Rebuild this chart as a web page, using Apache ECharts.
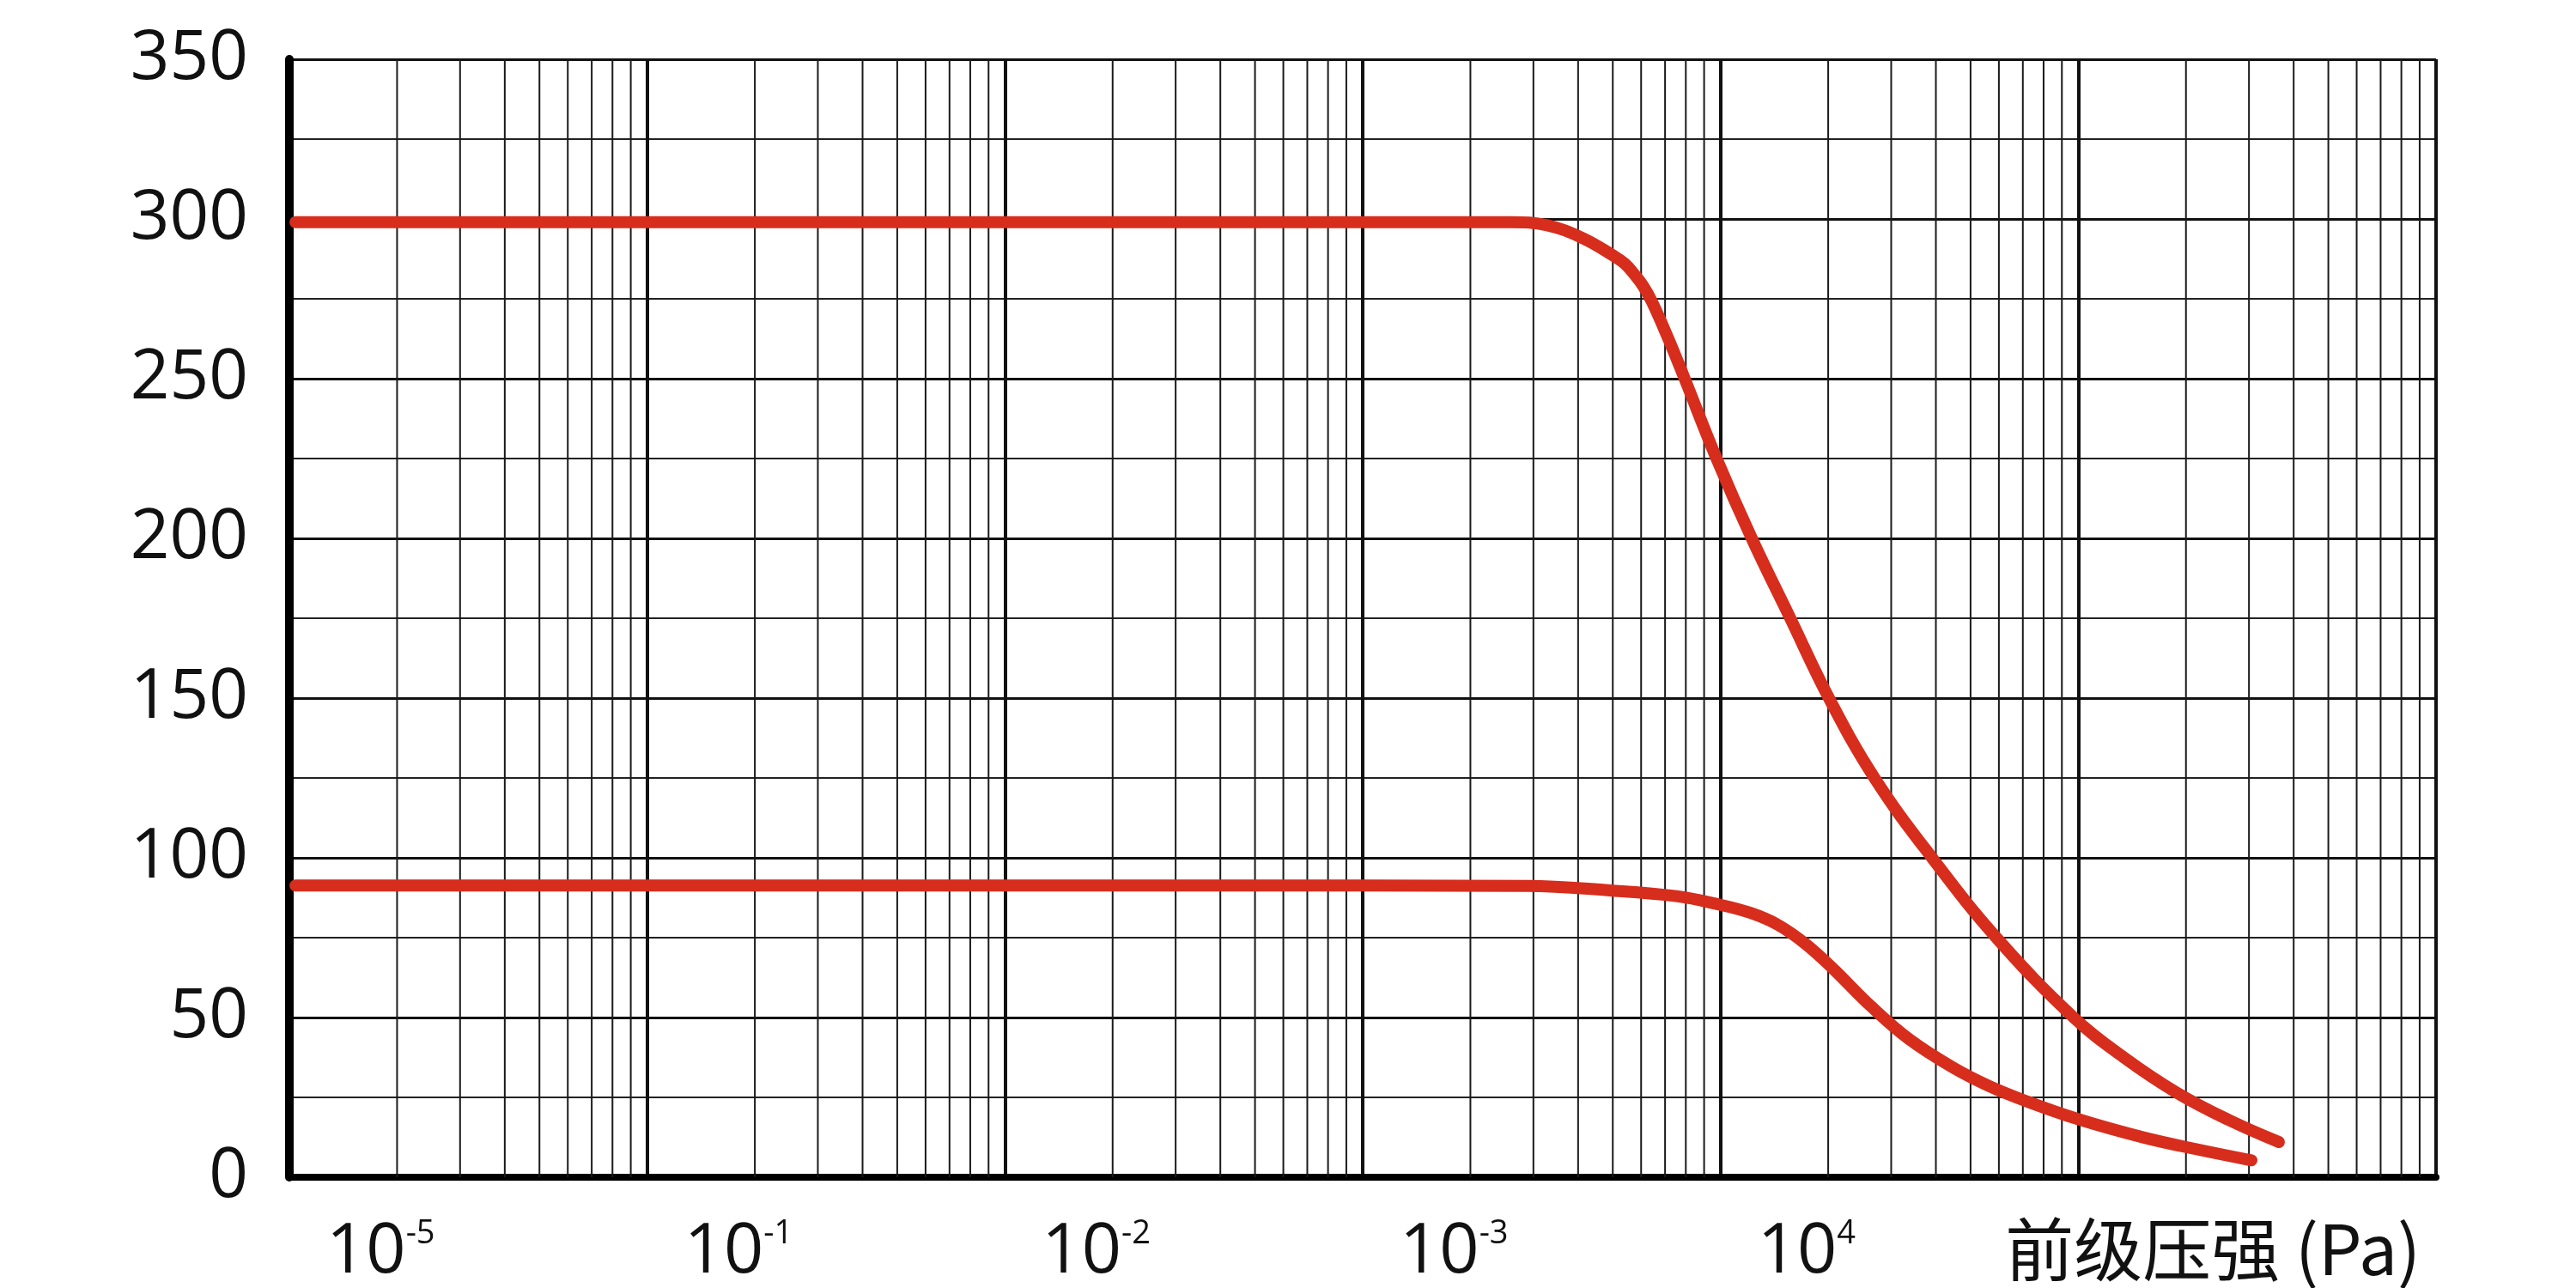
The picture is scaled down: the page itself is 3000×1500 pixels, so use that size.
<!DOCTYPE html>
<html><head><meta charset="utf-8">
<script src="https://cdn.jsdelivr.net/npm/echarts@6/dist/echarts.min.js"></script>
<style>html,body{margin:0;padding:0;background:#fff}#c{width:3000px;height:1500px}</style>
</head><body><div id="c"></div>
<script>
// ---- data ----
const X_MIN = 1e-5, X_MAX = 10;
const X_TICK_BASE = '10';
const X_TICK_EXPONENTS = ['-5', '-1', '-2', '-3', '4'];
const X_AXIS_NAME = '前级压强 (Pa)';
const MINOR_MULTIPLES = [2, 3, 4, 5, 6, 7, 8, 9];
const Y_MIN = 0, Y_MAX = 350, Y_INTERVAL = 50;

const upperX = [1.04e-5, 0.01, 0.026, 0.0328, 0.0412, 0.0502, 0.0540, 0.0576, 0.0608, 0.0644, 0.0715, 0.0794, 0.0975, 0.1223, 0.1567, 0.201, 0.2694, 0.3902, 0.5904, 0.971, 1.353, 1.884, 2.626, 3.637];
const upperY = [299, 299, 299, 298, 294, 288.5, 286, 282.5, 279, 274, 262.5, 250, 225, 200, 175, 150, 125, 100, 75, 50, 37.2, 26.5, 18, 11];
const lowerX = [1.04e-5, 0.01, 0.0289, 0.0491, 0.0752, 0.098, 0.1209, 0.1443, 0.1722, 0.2055, 0.2635, 0.336, 0.4455, 0.5619, 0.7085, 0.998, 1.528, 2.176, 3.048];
const lowerY = [91.3, 91.3, 91.2, 89.8, 88, 85.5, 82.8, 79.1, 73.2, 65.5, 53.5, 43.3, 34.4, 28.6, 24, 18.2, 12.4, 8.6, 5.3];

// ---- minor log grid positions (2..9 × each decade) ----
const eStart = Math.round(Math.log10(X_MIN)), eEnd = Math.round(Math.log10(X_MAX));
const minorX = [];
for (let e = eStart; e < eEnd; e++) {
  MINOR_MULTIPLES.forEach(m => minorX.push(m * Math.pow(10, e)));
}

const RED = '#d72d1d';
const chart = echarts.init(document.getElementById('c'));
chart.setOption({
  animation: false,
  backgroundColor: '#ffffff',
  grid: { left: 337, right: 163, top: 69, bottom: 129 },
  xAxis: {
    type: 'log', logBase: 10, min: X_MIN, max: X_MAX,
    axisLine: { show: true, lineStyle: { color: '#000', width: 8 } },
    axisTick: { show: false },
    splitLine: { show: true, lineStyle: { color: '#111', width: 4 } },
    axisLabel: {
      align: 'left', margin: 47, padding: [0, 0, 0, 43],
      formatter: function (v) {
        const i = Math.round(Math.log10(v)) - eStart;
        if (i >= 0 && i < X_TICK_EXPONENTS.length) return '{b|' + X_TICK_BASE + '}{s|' + X_TICK_EXPONENTS[i] + '}';
        return '';
      },
      rich: {
        b: { fontSize: 81, fontFamily: 'Open Sans', color: '#111' },
        s: { fontSize: 38, fontFamily: 'Open Sans', color: '#111', verticalAlign: 'top' }
      }
    },
    name: X_AXIS_NAME, nameLocation: 'end', nameGap: -18,
    nameTextStyle: { fontFamily: 'Noto Sans CJK SC', fontSize: 80, color: '#111', align: 'right', verticalAlign: 'top', padding: [44, 0, 0, 0] }
  },
  yAxis: {
    type: 'value', min: Y_MIN, max: Y_MAX, interval: Y_INTERVAL,
    axisLine: { show: true, lineStyle: { color: '#000', width: 10 } },
    axisTick: { show: false },
    axisLabel: { fontSize: 80, fontFamily: 'Open Sans', color: '#111', margin: 48 },
    splitLine: { show: true, lineStyle: { color: '#111', width: 3 } },
    minorTick: { show: false, splitNumber: 2 },
    minorSplitLine: { show: true, lineStyle: { color: '#222', width: 2 } }
  },
  series: [
    {
      type: 'custom', z: 1, silent: true,
      data: minorX.map(x => [x, Y_MIN]),
      encode: { x: 0, y: 1 },
      renderItem: function (params, api) {
        const x = api.value(0);
        const p0 = api.coord([x, Y_MIN]);
        const p1 = api.coord([x, Y_MAX]);
        return { type: 'line', shape: { x1: p0[0], y1: p0[1], x2: p1[0], y2: p1[1] }, style: { stroke: '#1a1a1a', lineWidth: 2 } };
      }
    },
    {
      type: 'line', data: upperX.map((x, i) => [x, upperY[i]]), smooth: 0.4, symbol: 'none', z: 3,
      lineStyle: { color: RED, width: 14, cap: 'round', join: 'round' }
    },
    {
      type: 'line', data: lowerX.map((x, i) => [x, lowerY[i]]), smooth: 0.4, symbol: 'none', z: 3,
      lineStyle: { color: RED, width: 14, cap: 'round', join: 'round' }
    }
  ]
});
</script></body></html>
